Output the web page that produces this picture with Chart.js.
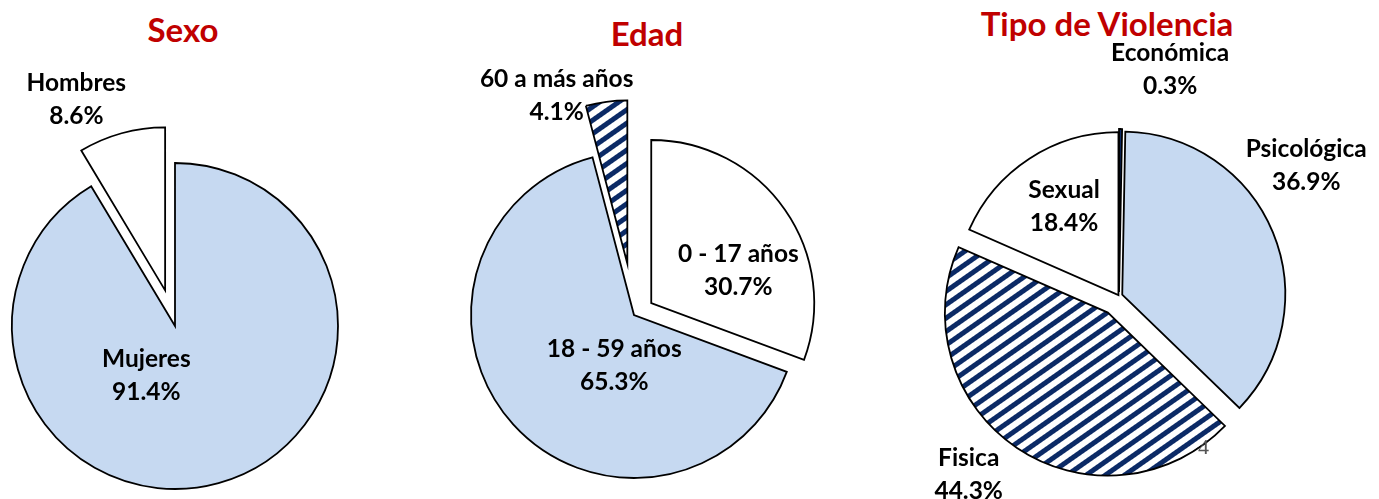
<!DOCTYPE html>
<html>
<head>
<meta charset="utf-8">
<script src="https://cdn.jsdelivr.net/npm/chart.js@4.4.0/dist/chart.umd.min.js"></script>
<style>
  html, body { margin: 0; padding: 0; background: #fff; }
  body { width: 1379px; height: 499px; position: relative; overflow: hidden; }
  canvas { position: absolute; }
  .titulo {
    position: absolute; width: 400px; text-align: center;
    font: bold 33px Lato, sans-serif; line-height: 32px; color: #C00000;
  }
  .pagina { position: absolute; z-index: 5; font: 22px "Liberation Serif", serif; color: #555; line-height: 22px; }
</style>
</head>
<body>
<div class="titulo" style="left:-17px; top:13px;">Sexo</div>
<div class="titulo" style="left:447px; top:17px;">Edad</div>
<div class="titulo" style="left:907px; top:7px;">Tipo de Violencia</div>

<canvas id="cSexo" width="350" height="652" style="left:0px; top:0px;"></canvas>
<canvas id="cEdad" width="400" height="630" style="left:434px; top:0px;"></canvas>
<canvas id="cViolencia" width="520" height="592" style="left:859px; top:0px;"></canvas>

<div class="pagina" style="left:1198px; top:436px;">4</div>

<script>
// datos
const sexoLabels = ['Mujeres', 'Hombres'];
const sexoValues = [91.4, 8.6];

const edadLabels = ['0 - 17 años', '18 - 59 años', '60 a más años'];
const edadValues = [30.7, 65.3, 4.1];

const violenciaLabels = ['Económica', 'Psicológica', 'Fisica', 'Sexual'];
const violenciaValues = [0.3, 36.9, 44.3, 18.4];

const AZUL = '#C6D9F1';
const BLANCO = '#FFFFFF';
const NAVY = '#0B2A66';

function rayas() {
  const tile = document.createElement('canvas');
  tile.width = 11;
  tile.height = 11;
  const c = tile.getContext('2d');
  c.fillStyle = '#fff';
  c.fillRect(0, 0, 11, 11);
  c.fillStyle = NAVY;
  c.fillRect(0, 0, 11, 5);
  const p = c.createPattern(tile, 'repeat');
  p.setTransform(new DOMMatrix().rotate(-35));
  return p;
}

// separa las porciones a lo largo de su ángulo medio
const explodePlugin = {
  id: 'explode',
  afterDatasetsUpdate(chart, args, opts) {
    const meta = chart.getDatasetMeta(0);
    meta.data.forEach((arc, i) => {
      const d = (opts.dist || [])[i] || 0;
      const mid = (arc.startAngle + arc.endAngle) / 2;
      arc.x += Math.cos(mid) * d;
      arc.y += Math.sin(mid) * d;
    });
  }
};

// etiquetas: nombre + porcentaje
const etiquetasPlugin = {
  id: 'etiquetas',
  afterDatasetsDraw(chart, args, opts) {
    const ctx = chart.ctx;
    const meta = chart.getDatasetMeta(0);
    const values = chart.data.datasets[0].data;
    ctx.save();
    ctx.font = 'bold 24.5px Lato, sans-serif';
    ctx.fillStyle = '#000';
    ctx.textAlign = 'center';
    ctx.textBaseline = 'middle';
    meta.data.forEach((arc, i) => {
      const [f, deg] = opts.place[i];
      const a = (arc.startAngle + arc.endAngle) / 2 + deg * Math.PI / 180;
      const x = arc.x + Math.cos(a) * arc.outerRadius * f;
      const y = arc.y + Math.sin(a) * arc.outerRadius * f;
      const lines = [chart.data.labels[i], values[i].toFixed(1) + '%'];
      lines.forEach((t, k) => ctx.fillText(t, x, y + (k - 0.5) * 33));
    });
    ctx.restore();
  }
};

function pastel(id, labels, values, colors, dist, place) {
  new Chart(document.getElementById(id), {
    type: 'pie',
    data: {
      labels: labels,
      datasets: [{
        data: values,
        backgroundColor: colors,
        borderColor: '#000',
        borderWidth: 1.8,
        borderJoinStyle: 'miter',
        radius: 163
      }]
    },
    options: {
      responsive: false,
      animation: false,
      events: [],
      plugins: {
        legend: { display: false },
        tooltip: { enabled: false },
        explode: { dist: dist },
        etiquetas: { place: place }
      }
    },
    plugins: [explodePlugin, etiquetasPlugin]
  });
}

function dibujar() {
  const hatch = rayas();

  pastel('cSexo', sexoLabels, sexoValues,
    [AZUL, BLANCO],
    [0, 37],
    [[0.35, 45.6], [1.29, -9.5]]);

  pastel('cEdad', edadLabels, edadValues,
    [BLANCO, AZUL, hatch],
    [21, 0, 52],
    [[0.57, 14.5], [0.335, -26.6], [1.12, -15.4]]);

  pastel('cViolencia', violenciaLabels, violenciaValues,
    [NAVY, AZUL, hatch, BLANCO],
    [4, 3.5, 20, 1],
    [[1.40, 12.4], [1.38, -12.7], [1.31, 6.8], [0.64, 1.7]]);
}

document.fonts.load('bold 24.5px Lato').finally(dibujar);
</script>
</body>
</html>
